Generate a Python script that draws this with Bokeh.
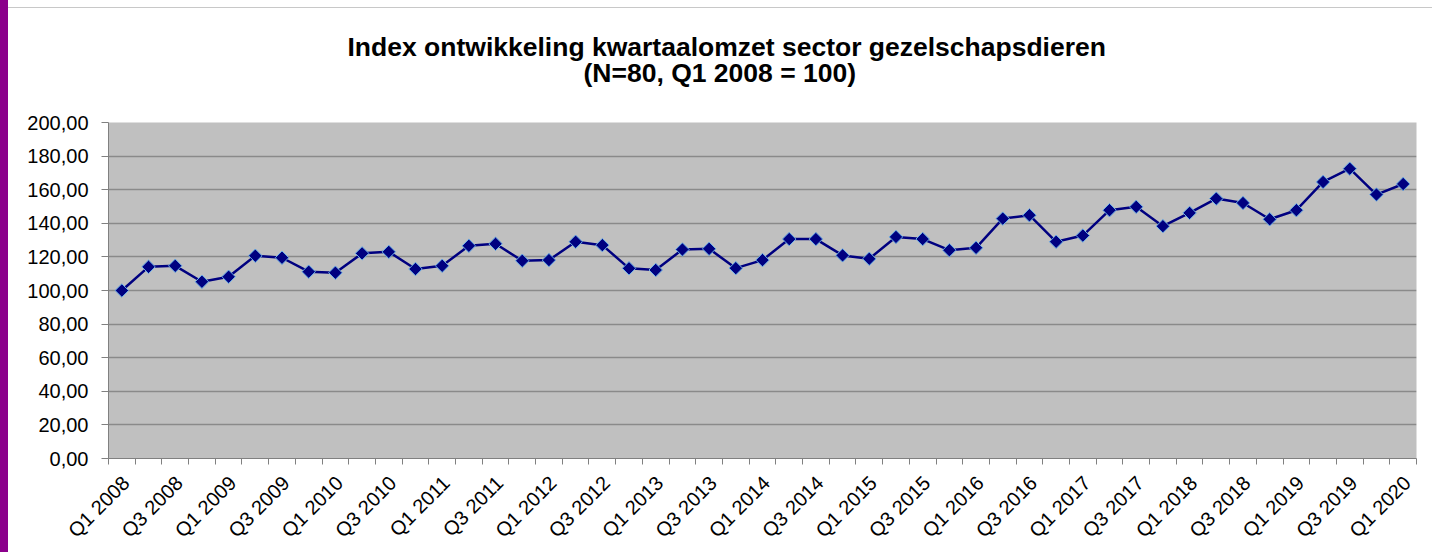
import math
from bokeh.plotting import figure
from bokeh.models import Range1d, FixedTicker, Title, ColumnDataSource
from bokeh.embed import file_html
from bokeh.resources import INLINE

quarters = [f"Q{q} {y}" for y in range(2008, 2021) for q in range(1, 5)][:49]
index_values = [
    100.0, 114.1, 114.7, 105.2, 108.2, 120.7, 119.5, 111.2,
    110.6, 122.1, 123.0, 112.8, 114.7, 126.6, 127.8, 117.7,
    118.1, 129.0, 127.0, 113.2, 112.2, 124.4, 124.8, 113.3,
    118.1, 130.6, 130.6, 120.9, 118.9, 131.9, 130.6, 124.0,
    125.4, 142.8, 144.8, 129.0, 132.7, 147.8, 149.8, 138.3,
    146.2, 154.7, 152.1, 142.4, 147.8, 164.6, 172.5, 157.1,
    163.4,
]
y_ticks = [0, 20, 40, 60, 80, 100, 120, 140, 160, 180, 200]
y_tick_labels = [f"{v},00" for v in y_ticks]
title_line1 = "Index ontwikkeling kwartaalomzet sector gezelschapsdieren"
title_line2 = "(N=80, Q1 2008 = 100)"

FONT = "Liberation Sans"
LABEL_SHIFT = 0.15  # labels sit slightly right of their category, as in the original

src = ColumnDataSource(dict(x=list(range(len(quarters))), y=index_values, q=quarters))

p = figure(width=1432, height=552, output_backend="svg", toolbar_location=None,
           x_range=Range1d(-0.5, len(quarters) - 0.5), y_range=Range1d(0, 200),
           min_border_left=108, min_border_right=16, min_border_top=122,
           min_border_bottom=93, title=None)
p.outline_line_color = None
p.background_fill_color = "#C0C0C0"
p.border_fill_color = None
p.stylesheets = [
    ":host { background: linear-gradient(to right, #8B008B 8px, transparent 8px), "
    "linear-gradient(to bottom, white 7px, #c8c8c8 7px, #c8c8c8 8px, white 8px); }"
]

spacer = Title(text=" ", text_font=FONT, text_font_size="16px", standoff=19)
t2 = Title(text=title_line2, align="left", text_font=FONT, text_font_size="26.5px",
           text_font_style="bold", text_color="black", offset=475)
t1 = Title(text=title_line1, align="left", text_font=FONT, text_font_size="26.5px",
           text_font_style="bold", text_color="black", offset=239)
for t in (t2, t1):
    try:
        t.standoff = -6.5
    except Exception:
        t.standoff = 0
p.add_layout(spacer, "above")
p.add_layout(t2, "above")
p.add_layout(t1, "above")

# axes
label_ticks = [i + LABEL_SHIFT for i in range(0, len(quarters), 2)]
xa = p.xaxis[0]
xa.ticker = FixedTicker(ticks=label_ticks,
                        minor_ticks=[i - 0.5 for i in range(len(quarters) + 1)])
xa.major_label_overrides = {t: quarters[i] for t, i in zip(label_ticks, range(0, len(quarters), 2))}
xa.major_label_orientation = math.pi / 4
xa.major_tick_out = 0
xa.major_tick_in = 0
xa.minor_tick_out = 6
xa.minor_tick_in = 0
xa.minor_tick_line_color = "#808080"
xa.axis_line_color = "#808080"
xa.major_label_text_font = FONT
xa.major_label_text_font_size = "20px"
xa.major_label_text_color = "black"
xa.major_label_standoff = 15

ya = p.yaxis[0]
ya.ticker = FixedTicker(ticks=y_ticks, minor_ticks=[])
ya.major_label_overrides = {v: l for v, l in zip(y_ticks, y_tick_labels)}
ya.major_tick_out = 7
ya.major_tick_in = 0
ya.major_tick_line_color = "#808080"
ya.axis_line_color = "#808080"
ya.major_label_text_font = FONT
ya.major_label_text_font_size = "20px"
ya.major_label_text_color = "black"
ya.major_label_standoff = 13

p.xgrid.grid_line_color = None
p.ygrid.grid_line_color = "#8a8a8a"
p.ygrid.grid_line_width = 1.6

p.line("x", "y", source=src, line_color="#000080", line_width=2.5)
p.scatter("x", "y", source=src, marker="square", angle=math.pi / 4, size=9.5,
          fill_color="#000080", line_color="#6aaee8", line_width=1)

open("out.html", "w").write(file_html(p, INLINE))
